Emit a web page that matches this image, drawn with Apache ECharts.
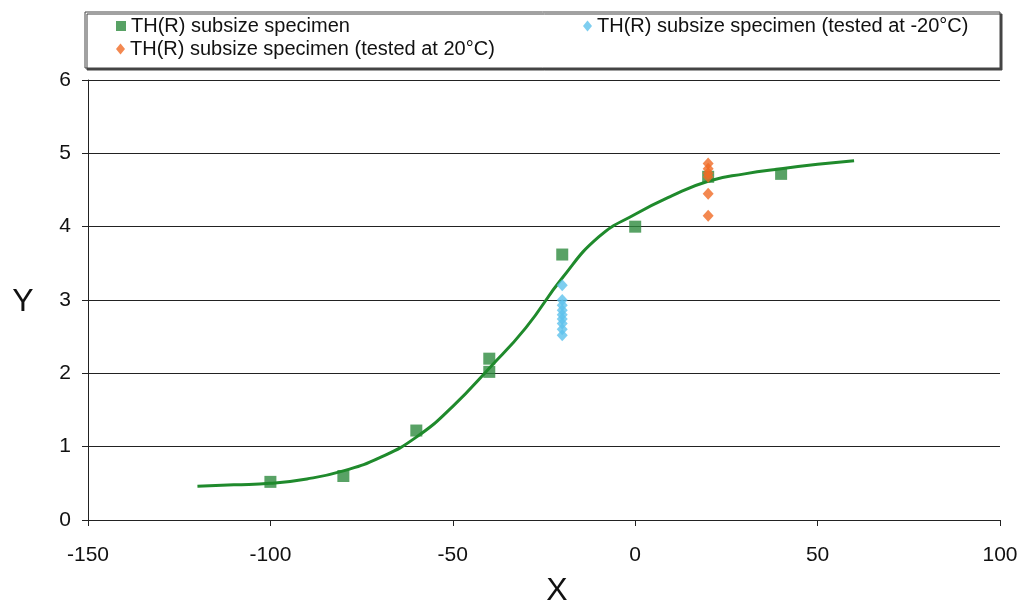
<!DOCTYPE html>
<html>
<head>
<meta charset="utf-8">
<script src="https://cdn.jsdelivr.net/npm/echarts@6/dist/echarts.min.js"></script>
<style>
  html, body { margin: 0; padding: 0; background: #fff; }
  #chart { width: 1026px; height: 609px; }
</style>
</head>
<body>
<div id="chart"></div>
<script>
// Green square specimens [X, Y]
const subsizeX = [-100, -80, -60, -40, -40, -20, 0, 20, 40];
const subsizeY = [0.52, 0.6, 1.22, 2.02, 2.2, 3.62, 4.0, 4.68, 4.72];

// Specimens tested at -20°C
const coldX = [-20, -20, -20, -20, -20, -20, -20, -20, -20];
const coldY = [3.2, 3.0, 2.93, 2.86, 2.8, 2.74, 2.68, 2.6, 2.52];

// Specimens tested at 20°C
const warmX = [20, 20, 20, 20, 20, 20];
const warmY = [4.86, 4.79, 4.73, 4.68, 4.45, 4.15];

// Fitted transition curve
const fitX = [-120, -110, -100, -90, -80, -70, -60, -50, -40, -30, -20, -10, 0, 10, 20, 30, 40, 50, 60];
const fitY = [0.46, 0.48, 0.5, 0.56, 0.67, 0.85, 1.13, 1.55, 2.07, 2.62, 3.3, 3.86, 4.17, 4.42, 4.62, 4.72, 4.79, 4.85, 4.9];

const legendNames = [
  'TH(R) subsize specimen',
  'TH(R) subsize specimen (tested at -20°C)',
  'TH(R) subsize specimen (tested at 20°C)'
];

const xTicks = { min: -150, max: 100, interval: 50 };
const yTicks = { min: 0, max: 6, interval: 1 };

const zip = (xs, ys) => xs.map((x, i) => [x, ys[i]]);
const FONT = 'Liberation Sans, Arial, sans-serif';

const chart = echarts.init(document.getElementById('chart'), null, { renderer: 'canvas' });

const legendText = { fontFamily: FONT, fontSize: 20, color: '#111' };

chart.setOption({
  animation: false,
  backgroundColor: '#ffffff',
  grid: { left: 88, right: 26, top: 80, bottom: 89, containLabel: false },
  graphic: [
    {
      type: 'rect',
      shape: { x: 85, y: 12, width: 915, height: 56 },
      style: { fill: '#fff', stroke: '#444', lineWidth: 1, shadowColor: '#444', shadowOffsetX: 2, shadowOffsetY: 2, shadowBlur: 0 },
      z: 0
    },
    {
      type: 'text',
      style: { x: 23, y: 302, text: 'Y', font: '32px ' + FONT, fill: '#111', align: 'center', verticalAlign: 'middle' }
    },
    {
      type: 'text',
      style: { x: 557, y: 591, text: 'X', font: '32px ' + FONT, fill: '#111', align: 'center', verticalAlign: 'middle' }
    }
  ],
  legend: [
    { data: [legendNames[0]], left: 116, top: 16, padding: 0, itemWidth: 10, itemHeight: 10, itemGap: 6, textStyle: legendText, z: 5 },
    { data: [legendNames[1]], left: 583, top: 16, padding: 0, itemWidth: 9, itemHeight: 11, itemGap: 6, textStyle: legendText, z: 5 },
    { data: [legendNames[2]], left: 116, top: 39, padding: 0, itemWidth: 9, itemHeight: 11, itemGap: 6, textStyle: legendText, z: 5 }
  ],
  xAxis: {
    type: 'value',
    min: xTicks.min, max: xTicks.max, interval: xTicks.interval,
    axisLine: { show: true, onZero: false, lineStyle: { color: '#222', width: 1 } },
    axisTick: { show: true, length: 6, lineStyle: { color: '#222' } },
    axisLabel: { fontFamily: FONT, fontSize: 21, color: '#111', margin: 25 },
    splitLine: { show: false }
  },
  yAxis: {
    type: 'value',
    min: yTicks.min, max: yTicks.max, interval: yTicks.interval,
    axisLine: { show: true, onZero: false, lineStyle: { color: '#222', width: 1 } },
    axisTick: { show: true, length: 6, lineStyle: { color: '#222' } },
    axisLabel: { fontFamily: FONT, fontSize: 21, color: '#111', margin: 17 },
    splitLine: { show: true, lineStyle: { color: '#222', width: 1 } }
  },
  series: [
    {
      name: legendNames[0], type: 'scatter', symbol: 'rect', symbolSize: 12,
      itemStyle: { color: '#2e8b3e' }, data: zip(subsizeX, subsizeY), z: 2
    },
    {
      name: 'fit', type: 'line', smooth: 0.5, showSymbol: false,
      lineStyle: { color: '#1f8a2c', width: 3 }, data: zip(fitX, fitY), z: 3
    },
    {
      name: legendNames[1], type: 'scatter', symbol: 'diamond', symbolSize: [11, 12],
      itemStyle: { color: '#5ec2ec' }, data: zip(coldX, coldY), z: 4
    },
    {
      name: legendNames[2], type: 'scatter', symbol: 'diamond', symbolSize: [11, 12],
      itemStyle: { color: '#f06a24' }, data: zip(warmX, warmY), z: 4
    }
  ]
});
</script>
</body>
</html>
